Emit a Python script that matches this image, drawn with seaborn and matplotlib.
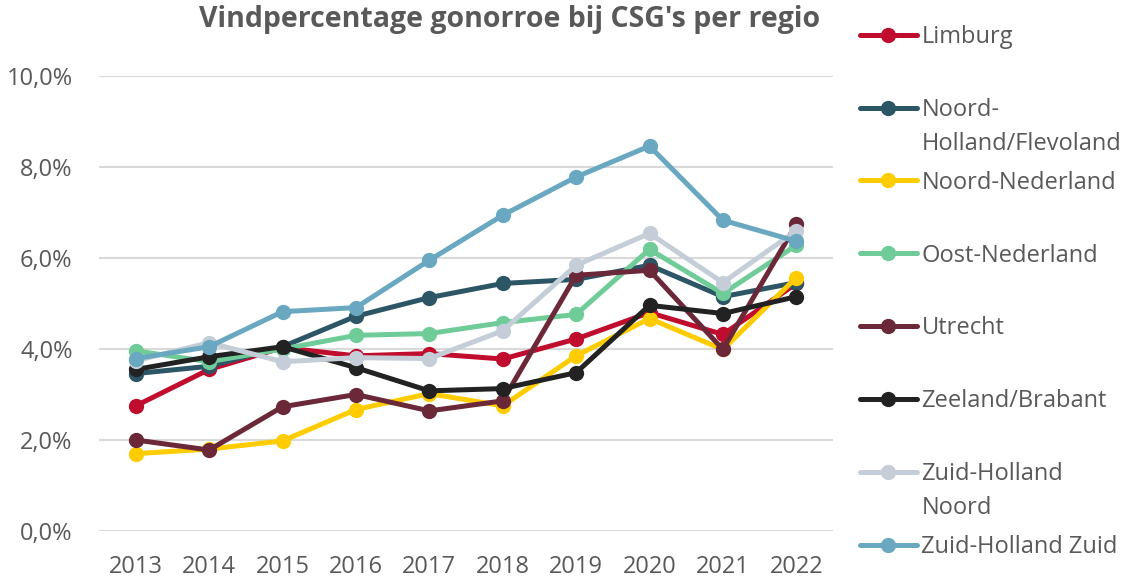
import pandas as pd
import seaborn as sns
import matplotlib.pyplot as plt
from matplotlib.ticker import FuncFormatter

# Data (percentages)
years = [2013, 2014, 2015, 2016, 2017, 2018, 2019, 2020, 2021, 2022]
limburg = [2.75, 3.55, 4.03, 3.85, 3.90, 3.78, 4.22, 4.80, 4.32, 5.44]
noord_holland = [3.46, 3.62, 4.05, 4.72, 5.13, 5.44, 5.53, 5.84, 5.15, 5.46]
noord_nederland = [1.70, 1.80, 1.98, 2.67, 3.02, 2.75, 3.85, 4.67, 3.99, 5.57]
oost_nederland = [3.96, 3.72, 4.00, 4.30, 4.34, 4.58, 4.76, 6.19, 5.22, 6.28]
utrecht = [2.00, 1.78, 2.73, 3.00, 2.64, 2.86, 5.62, 5.73, 3.99, 6.74]
zeeland_brabant = [3.55, 3.83, 4.05, 3.59, 3.08, 3.13, 3.48, 4.96, 4.78, 5.15]
zh_noord = [3.74, 4.14, 3.72, 3.81, 3.79, 4.40, 5.84, 6.54, 5.46, 6.60]
zh_zuid = [3.79, 4.05, 4.82, 4.91, 5.95, 6.94, 7.78, 8.46, 6.83, 6.37]

regions = ["Limburg", "Noord-Holland/Flevoland", "Noord-Nederland", "Oost-Nederland",
           "Utrecht", "Zeeland/Brabant", "Zuid-Holland Noord", "Zuid-Holland Zuid"]
series = [limburg, noord_holland, noord_nederland, oost_nederland,
          utrecht, zeeland_brabant, zh_noord, zh_zuid]
# legend labels as they wrap in the reference
legend_lines = [["Limburg"], ["Noord-", "Holland/Flevoland"], ["Noord-Nederland"],
                ["Oost-Nederland"], ["Utrecht"], ["Zeeland/Brabant"],
                ["Zuid-Holland", "Noord"], ["Zuid-Holland Zuid"]]
colors = ["#C00D2E", "#2C5565", "#FFCC00", "#6FCC98",
          "#6B2838", "#222222", "#C5CED8", "#69A8C0"]

df = pd.DataFrame([
    {"Jaar": y, "Regio": r, "Vindpercentage": v}
    for r, vals in zip(regions, series) for y, v in zip(years, vals)
])

sns.set_theme(style="white")
plt.rcParams["font.family"] = ["Open Sans", "DejaVu Sans"]
text_color = "#595959"

W, H = 1134, 581
fig = plt.figure(figsize=(W / 100, H / 100), dpi=100)
ax = fig.add_axes([99 / W, 50 / H, (833 - 99) / W, (531 - 76) / H])

sns.lineplot(data=df, x="Jaar", y="Vindpercentage", hue="Regio", hue_order=regions,
             palette=dict(zip(regions, colors)), marker="o", markersize=11,
             markeredgewidth=0, linewidth=3.6, errorbar=None, legend=False, ax=ax)

ax.set_xlim(years[0] - 0.5, years[-1] + 0.5)
ax.set_ylim(0, 10)
ax.set_xticks(years)
ax.set_yticks([0, 2, 4, 6, 8, 10])
ax.yaxis.set_major_formatter(FuncFormatter(lambda v, p: f"{v:.1f}%".replace(".", ",")))
ax.grid(axis="y", color="#D9D9D9", linewidth=1.5)
ax.grid(axis="x", visible=False)
ax.set_axisbelow(True)
for s in ax.spines.values():
    s.set_visible(False)
ax.tick_params(axis="both", length=0, labelsize=17, labelcolor=text_color)
ax.tick_params(axis="y", pad=19)
ax.tick_params(axis="x", pad=17)
ax.set_xlabel("")
ax.set_ylabel("")

fig.text(820 / W, 1 - 20 / H, "Vindpercentage gonorroe bij CSG's per regio",
         ha="right", va="center", fontsize=20.5, fontweight="bold", color=text_color)

handles = ax.get_lines()[:len(regions)]
leg = fig.legend(handles, [l[0] for l in legend_lines], loc="upper left",
                 bbox_to_anchor=(860 / W, 1 - 25 / H), frameon=False, fontsize=17,
                 handlelength=2.4, handletextpad=0.2, labelspacing=2.07,
                 borderpad=0, borderaxespad=0, labelcolor=text_color)

# second lines of the wrapped legend labels
fig.canvas.draw()
for t, lines in zip(leg.get_texts(), legend_lines):
    if len(lines) > 1:
        x, y = t.get_transform().transform(t.get_position())
        fig.text(x / W, (y - 34) / H, lines[1], ha="left", va="baseline",
                 fontsize=17, color=text_color)

fig.savefig("out.png", dpi=100)
